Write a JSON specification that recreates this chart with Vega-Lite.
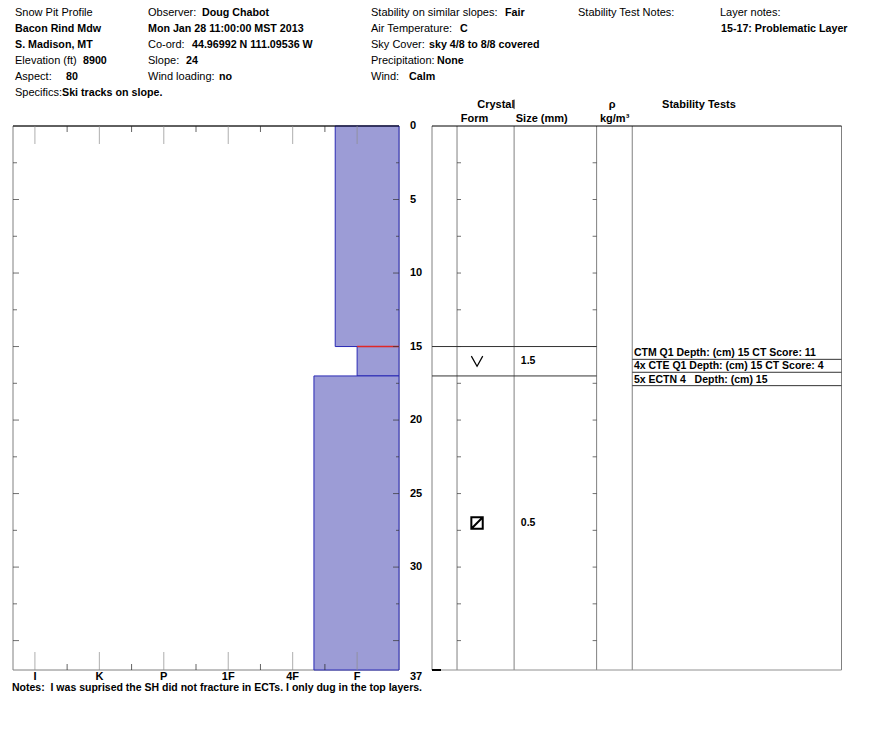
{
  "$schema": "https://vega.github.io/schema/vega-lite/v6.json",
  "width": 888,
  "height": 750,
  "padding": 0,
  "autosize": {"type": "none"},
  "background": "white",
  "config": {
    "view": {"stroke": null},
    "axis": {"disable": true},
    "text": {"font": "Liberation Sans", "fontSize": 11, "color": "black"}
  },
  "datasets": {
    "snowLayers": [
      {"top": 0, "bottom": 15, "hardness": "F+", "h": 1.34, "note": null},
      {"top": 15, "bottom": 17, "hardness": "F", "h": 1.0, "note": "Problematic Layer"},
      {"top": 17, "bottom": 37, "hardness": "4F-", "h": 1.67, "note": null}
    ],
    "hardnessScale": [
      {"h": 6, "label": "I"}, {"h": 5, "label": "K"}, {"h": 4, "label": "P"},
      {"h": 3, "label": "1F"}, {"h": 2, "label": "4F"}, {"h": 1, "label": "F"},
      {"h": 5.5, "label": null}, {"h": 4.5, "label": null}, {"h": 3.5, "label": null},
      {"h": 2.5, "label": null}, {"h": 1.5, "label": null}
    ],
    "depthTicks": [
      {"d": 2.5}, {"d": 5}, {"d": 7.5}, {"d": 10}, {"d": 12.5}, {"d": 15}, {"d": 17.5},
      {"d": 20}, {"d": 22.5}, {"d": 25}, {"d": 27.5}, {"d": 30}, {"d": 32.5}, {"d": 35}
    ],
    "depthLabels": [
      {"d": 0}, {"d": 5}, {"d": 10}, {"d": 15}, {"d": 20}, {"d": 25}, {"d": 30}, {"d": 37}
    ],
    "tableCols": [{"c": 0}, {"c": 6.11}, {"c": 20.05}, {"c": 40.2}, {"c": 48.9}, {"c": 100}],
    "tableHeaders": [
      {"label": "Crystal", "c": 15.6, "line": 1},
      {"label": "ρ", "c": 44.0, "line": 1},
      {"label": "Stability Tests", "c": 65.2, "line": 1},
      {"label": "Form", "c": 10.4, "line": 2},
      {"label": "Size (mm)", "c": 26.8, "line": 2},
      {"label": "kg/m³", "c": 44.6, "line": 2}
    ],
    "crystals": [
      {"depth": 16, "form": "SH", "grainSize": "1.5"},
      {"depth": 27, "form": "FC", "grainSize": "0.5"}
    ],
    "tests": [
      {"n": 1, "depth": 15, "rowBottom": 15.87, "test": "CTM Q1 Depth: (cm) 15 CT Score: 11"},
      {"n": 2, "depth": 15, "rowBottom": 16.75, "test": "4x CTE Q1 Depth: (cm) 15 CT Score: 4"},
      {"n": 3, "depth": 15, "rowBottom": 17.66, "test": "5x ECTN 4\u00a0\u00a0 Depth: (cm) 15"}
    ],
    "header": [
      {"line": 0, "x": 15, "kind": "label", "text": "Snow Pit Profile"},
      {"line": 0, "x": 148, "kind": "label", "text": "Observer:"},
      {"line": 0, "x": 202, "kind": "value", "text": "Doug Chabot"},
      {"line": 0, "x": 371, "kind": "label", "text": "Stability on similar slopes:"},
      {"line": 0, "x": 505, "kind": "value", "text": "Fair"},
      {"line": 0, "x": 578, "kind": "label", "text": "Stability Test Notes:"},
      {"line": 0, "x": 720, "kind": "label", "text": "Layer notes:"},
      {"line": 1, "x": 15, "kind": "value", "text": "Bacon Rind Mdw"},
      {"line": 1, "x": 148, "kind": "value", "text": "Mon Jan 28 11:00:00 MST 2013"},
      {"line": 1, "x": 371, "kind": "label", "text": "Air Temperature:"},
      {"line": 1, "x": 460, "kind": "value", "text": "C"},
      {"line": 1, "x": 721, "kind": "value", "text": "15-17: Problematic Layer"},
      {"line": 2, "x": 15, "kind": "value", "text": "S. Madison, MT"},
      {"line": 2, "x": 148, "kind": "label", "text": "Co-ord:"},
      {"line": 2, "x": 192, "kind": "value", "text": "44.96992 N 111.09536 W"},
      {"line": 2, "x": 371, "kind": "label", "text": "Sky Cover:"},
      {"line": 2, "x": 429, "kind": "value", "text": "sky 4/8 to 8/8 covered"},
      {"line": 3, "x": 15, "kind": "label", "text": "Elevation (ft)"},
      {"line": 3, "x": 83, "kind": "value", "text": "8900"},
      {"line": 3, "x": 148, "kind": "label", "text": "Slope:"},
      {"line": 3, "x": 186, "kind": "value", "text": "24"},
      {"line": 3, "x": 371, "kind": "label", "text": "Precipitation:"},
      {"line": 3, "x": 437, "kind": "value", "text": "None"},
      {"line": 4, "x": 15, "kind": "label", "text": "Aspect:"},
      {"line": 4, "x": 66, "kind": "value", "text": "80"},
      {"line": 4, "x": 148, "kind": "label", "text": "Wind loading:"},
      {"line": 4, "x": 219, "kind": "value", "text": "no"},
      {"line": 4, "x": 371, "kind": "label", "text": "Wind:"},
      {"line": 4, "x": 409, "kind": "value", "text": "Calm"},
      {"line": 5, "x": 15, "kind": "label", "text": "Specifics:"},
      {"line": 5, "x": 62, "kind": "value", "text": "Ski tracks on slope."}
    ],
    "notes": [
      {"text": "Notes:\u00a0 I was suprised the SH did not fracture in ECTs. I only dug in the top layers."}
    ]
  },
  "resolve": {"scale": {"x": "independent", "y": "independent"}},
  "layer": [
    {
      "layer": [
        {
          "data": {"values": [{}]},
          "mark": {"type": "rect", "fill": "white", "stroke": "#808080", "strokeWidth": 1},
          "encoding": {
            "x": {"datum": 6.34, "type": "quantitative", "scale": {"domain": [0.35, 6.34], "range": [399, 13], "nice": false, "zero": false}},
            "x2": {"datum": 0.35},
            "y": {"datum": 0, "type": "quantitative", "scale": {"domain": [0, 37], "range": [126, 670], "nice": false, "zero": false}},
            "y2": {"datum": 37}
          }
        },
        {
          "data": {"name": "snowLayers"},
          "mark": {"type": "rect", "fill": "#9c9cd6", "stroke": "#2a2ab4", "strokeWidth": 1},
          "encoding": {
            "x": {"field": "h", "type": "quantitative"},
            "x2": {"datum": 0.35},
            "y": {"field": "top", "type": "quantitative"},
            "y2": {"field": "bottom"}
          }
        },
        {
          "data": {"name": "snowLayers"},
          "transform": [{"filter": "datum.note != null"}],
          "mark": {"type": "rule", "color": "#e02828", "strokeWidth": 1.5},
          "encoding": {
            "x": {"field": "h", "type": "quantitative"},
            "x2": {"datum": 0.35},
            "y": {"field": "top", "type": "quantitative"}
          }
        },
        {
          "data": {"values": [{}]},
          "mark": {"type": "rule", "color": "black", "strokeWidth": 1},
          "encoding": {
            "x": {"datum": 6.34, "type": "quantitative"},
            "x2": {"datum": 0.35},
            "y": {"datum": 0, "type": "quantitative"}
          }
        },
        {
          "data": {"name": "hardnessScale"},
          "transform": [{"filter": "datum.label != null"}],
          "mark": {"type": "tick", "orient": "vertical", "yOffset": 9, "size": 18, "thickness": 1, "color": "#8c8c8c"},
          "encoding": {
            "x": {"field": "h", "type": "quantitative"},
            "y": {"datum": 0, "type": "quantitative"}
          }
        },
        {
          "data": {"name": "hardnessScale"},
          "transform": [{"filter": "datum.label != null"}],
          "mark": {"type": "tick", "orient": "vertical", "yOffset": -9, "size": 18, "thickness": 1, "color": "#8c8c8c"},
          "encoding": {
            "x": {"field": "h", "type": "quantitative"},
            "y": {"datum": 37, "type": "quantitative"}
          }
        },
        {
          "data": {"name": "hardnessScale"},
          "transform": [{"filter": "datum.label == null"}],
          "mark": {"type": "tick", "orient": "vertical", "yOffset": 3, "size": 6, "thickness": 1, "color": "#222"},
          "encoding": {
            "x": {"field": "h", "type": "quantitative"},
            "y": {"datum": 0, "type": "quantitative"}
          }
        },
        {
          "data": {"name": "hardnessScale"},
          "transform": [{"filter": "datum.label == null"}],
          "mark": {"type": "tick", "orient": "vertical", "yOffset": -3, "size": 6, "thickness": 1, "color": "#222"},
          "encoding": {
            "x": {"field": "h", "type": "quantitative"},
            "y": {"datum": 37, "type": "quantitative"}
          }
        },
        {
          "data": {"name": "hardnessScale"},
          "transform": [{"filter": "datum.label != null"}],
          "mark": {"type": "text", "dy": 7, "align": "center", "baseline": "middle", "fontWeight": "bold", "fontSize": 11},
          "encoding": {
            "x": {"field": "h", "type": "quantitative"},
            "y": {"datum": 37, "type": "quantitative"},
            "text": {"field": "label"}
          }
        },
        {
          "data": {"name": "depthTicks"},
          "transform": [{"filter": "datum.d % 5 == 0"}],
          "mark": {"type": "tick", "orient": "horizontal", "xOffset": 3, "size": 6, "thickness": 1, "color": "#333"},
          "encoding": {
            "x": {"datum": 6.34, "type": "quantitative"},
            "y": {"field": "d", "type": "quantitative"}
          }
        },
        {
          "data": {"name": "depthTicks"},
          "transform": [{"filter": "datum.d % 5 != 0"}],
          "mark": {"type": "tick", "orient": "horizontal", "xOffset": 2, "size": 4, "thickness": 1, "color": "#333"},
          "encoding": {
            "x": {"datum": 6.34, "type": "quantitative"},
            "y": {"field": "d", "type": "quantitative"}
          }
        },
        {
          "data": {"name": "depthTicks"},
          "transform": [{"filter": "datum.d % 5 == 0"}],
          "mark": {"type": "tick", "orient": "horizontal", "xOffset": -3, "size": 6, "thickness": 1, "color": "#333"},
          "encoding": {
            "x": {"datum": 0.35, "type": "quantitative"},
            "y": {"field": "d", "type": "quantitative"}
          }
        },
        {
          "data": {"name": "depthTicks"},
          "transform": [{"filter": "datum.d % 5 != 0"}],
          "mark": {"type": "tick", "orient": "horizontal", "xOffset": -1.5, "size": 3, "thickness": 1, "color": "#333"},
          "encoding": {
            "x": {"datum": 0.35, "type": "quantitative"},
            "y": {"field": "d", "type": "quantitative"}
          }
        },
        {
          "data": {"name": "depthLabels"},
          "transform": [{"filter": "datum.d < 37"}],
          "mark": {"type": "text", "dx": 11, "align": "left", "baseline": "middle", "fontWeight": "bold", "fontSize": 11},
          "encoding": {
            "x": {"datum": 0.35, "type": "quantitative"},
            "y": {"field": "d", "type": "quantitative"},
            "text": {"field": "d"}
          }
        },
        {
          "data": {"name": "depthLabels"},
          "transform": [{"filter": "datum.d == 37"}],
          "mark": {"type": "text", "dx": 11, "dy": 7, "align": "left", "baseline": "middle", "fontWeight": "bold", "fontSize": 11},
          "encoding": {
            "x": {"datum": 0.35, "type": "quantitative"},
            "y": {"field": "d", "type": "quantitative"},
            "text": {"field": "d"}
          }
        },
        {
          "data": {"name": "notes"},
          "mark": {"type": "text", "align": "left", "baseline": "middle", "fontWeight": "bold", "fontSize": 10.5},
          "encoding": {
            "x": {"datum": 6.355, "type": "quantitative"},
            "y": {"datum": 38.2, "type": "quantitative"},
            "text": {"field": "text"}
          }
        }
      ]
    },
    {
      "layer": [
        {
          "data": {"name": "tableCols"},
          "mark": {"type": "rule", "color": "#808080", "strokeWidth": 1},
          "encoding": {
            "x": {"field": "c", "type": "quantitative", "scale": {"domain": [0, 100], "range": [432, 841.5], "nice": false, "zero": false}},
            "y": {"datum": 0, "type": "quantitative", "scale": {"domain": [0, 37], "range": [126, 670], "nice": false, "zero": false}},
            "y2": {"datum": 37}
          }
        },
        {
          "data": {"values": [{}]},
          "mark": {"type": "rule", "color": "black", "strokeWidth": 1},
          "encoding": {
            "x": {"datum": 0, "type": "quantitative"},
            "x2": {"datum": 100},
            "y": {"datum": 0, "type": "quantitative"}
          }
        },
        {
          "data": {"values": [{}]},
          "mark": {"type": "rule", "color": "#909090", "strokeWidth": 1},
          "encoding": {
            "x": {"datum": 0, "type": "quantitative"},
            "x2": {"datum": 100},
            "y": {"datum": 37, "type": "quantitative"}
          }
        },
        {
          "data": {"values": [{}]},
          "mark": {"type": "rule", "color": "black", "strokeWidth": 2},
          "encoding": {
            "x": {"datum": 0, "type": "quantitative"},
            "x2": {"datum": 2.2},
            "y": {"datum": 37, "type": "quantitative"}
          }
        },
        {
          "data": {"name": "snowLayers"},
          "transform": [{"filter": "datum.top > 0"}],
          "mark": {"type": "rule", "color": "#333", "strokeWidth": 1},
          "encoding": {
            "x": {"datum": 0, "type": "quantitative"},
            "x2": {"datum": 40.2},
            "y": {"field": "top", "type": "quantitative"}
          }
        },
        {
          "data": {"name": "depthTicks"},
          "mark": {"type": "tick", "orient": "horizontal", "xOffset": 2, "size": 4, "thickness": 1, "color": "#333"},
          "encoding": {
            "x": {"datum": 6.11, "type": "quantitative"},
            "y": {"field": "d", "type": "quantitative"}
          }
        },
        {
          "data": {"name": "depthTicks"},
          "mark": {"type": "tick", "orient": "horizontal", "xOffset": -2, "size": 4, "thickness": 1, "color": "#333"},
          "encoding": {
            "x": {"datum": 40.2, "type": "quantitative"},
            "y": {"field": "d", "type": "quantitative"}
          }
        },
        {
          "data": {"name": "crystals"},
          "mark": {"type": "point", "filled": false, "stroke": "black", "size": 130, "opacity": 1},
          "encoding": {
            "x": {"datum": 11, "type": "quantitative"},
            "y": {"field": "depth", "type": "quantitative"},
            "shape": {
              "field": "form",
              "type": "nominal",
              "scale": {"domain": ["SH", "FC"], "range": ["M-1,-0.9L0,0.9L1,-0.9", "M-1,-1L1,-1L1,1L-1,1Z M-1,1L1,-1"]},
              "legend": null
            },
            "strokeWidth": {
              "field": "form",
              "type": "nominal",
              "scale": {"domain": ["SH", "FC"], "range": [1.2, 2]},
              "legend": null
            }
          }
        },
        {
          "data": {"name": "crystals"},
          "mark": {"type": "text", "align": "left", "baseline": "middle", "fontWeight": "bold", "fontSize": 10.5},
          "encoding": {
            "x": {"datum": 21.7, "type": "quantitative"},
            "y": {"field": "depth", "type": "quantitative"},
            "text": {"field": "grainSize"}
          }
        },
        {
          "data": {"name": "tests"},
          "mark": {"type": "rule", "color": "#333", "strokeWidth": 1},
          "encoding": {
            "x": {"datum": 48.9, "type": "quantitative"},
            "x2": {"datum": 100},
            "y": {"field": "rowBottom", "type": "quantitative"}
          }
        },
        {
          "data": {"name": "tests"},
          "mark": {"type": "text", "dy": -6, "align": "left", "baseline": "middle", "fontWeight": "bold", "fontSize": 10.5},
          "encoding": {
            "x": {"datum": 49.3, "type": "quantitative"},
            "y": {"field": "rowBottom", "type": "quantitative"},
            "text": {"field": "test"}
          }
        },
        {
          "data": {"name": "tableHeaders"},
          "transform": [{"filter": "datum.line == 1"}],
          "mark": {"type": "text", "dy": -21, "align": "center", "baseline": "middle", "fontWeight": "bold", "fontSize": 11},
          "encoding": {
            "x": {"field": "c", "type": "quantitative"},
            "y": {"datum": 0, "type": "quantitative"},
            "text": {"field": "label"}
          }
        },
        {
          "data": {"name": "tableHeaders"},
          "transform": [{"filter": "datum.line == 2"}],
          "mark": {"type": "text", "dy": -7, "align": "center", "baseline": "middle", "fontWeight": "bold", "fontSize": 11},
          "encoding": {
            "x": {"field": "c", "type": "quantitative"},
            "y": {"datum": 0, "type": "quantitative"},
            "text": {"field": "label"}
          }
        },
        {
          "data": {"values": [{}]},
          "mark": {"type": "rule", "color": "#333", "strokeWidth": 1},
          "encoding": {
            "x": {"datum": 20.05, "type": "quantitative"},
            "y": {"datum": -1.8, "type": "quantitative"},
            "y2": {"datum": -1.15}
          }
        }
      ]
    },
    {
      "layer": [
        {
          "data": {"name": "header"},
          "transform": [{"filter": "datum.kind == 'label'"}],
          "mark": {"type": "text", "align": "left", "baseline": "middle", "fontSize": 11},
          "encoding": {
            "x": {"field": "x", "type": "quantitative", "scale": {"domain": [0, 888], "range": [0, 888], "nice": false, "zero": false}},
            "y": {"field": "line", "type": "quantitative", "scale": {"domain": [0, 5], "range": [12.5, 92.5], "nice": false, "zero": false}},
            "text": {"field": "text"}
          }
        },
        {
          "data": {"name": "header"},
          "transform": [{"filter": "datum.kind == 'value'"}],
          "mark": {"type": "text", "align": "left", "baseline": "middle", "fontWeight": "bold", "fontSize": 10.7},
          "encoding": {
            "x": {"field": "x", "type": "quantitative"},
            "y": {"field": "line", "type": "quantitative"},
            "text": {"field": "text"}
          }
        }
      ]
    }
  ]
}
